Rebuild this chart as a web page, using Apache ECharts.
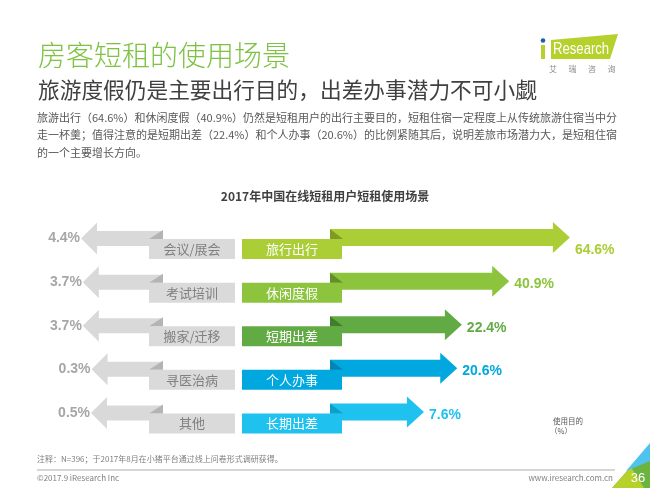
<!DOCTYPE html>
<html>
<head>
<meta charset="utf-8">
<script src="https://cdn.jsdelivr.net/npm/echarts@6/dist/echarts.min.js"></script>
<style>
html,body{margin:0;padding:0;background:#fff;}
#chart{width:650px;height:488px;}
</style>
</head>
<body>
<div id="chart"></div>
<script>
// ---- data ----
const rightCats = ['旅行出行', '休闲度假', '短期出差', '个人办事', '长期出差'];
const rightValues = [64.6, 40.9, 22.4, 20.6, 7.6];
const leftCats = ['会议/展会', '考试培训', '搬家/迁移', '寻医治病', '其他'];
const leftValues = [4.4, 3.7, 3.7, 0.3, 0.5];

// ---- styles ----
const rightColors = ['#abcd36', '#8cc43e', '#62ab44', '#00a8df', '#1fc2ee'];
const rightFolds = ['#7e9a23', '#628f28', '#3f7e2c', '#0584b2', '#0d9fc7'];
const grayArrow = '#d9d9d9';
const grayFold = '#b4b4b4';
const FONT = '"Noto Sans CJK SC", "Noto Sans", sans-serif';
const NUMFONT = '"Liberation Sans", Arial, sans-serif';

// layout constants (px)
const RBOX = { l: 242, r: 342, fold: 330 };
const LBOX = { l: 149, r: 235, fold: 163 };

const chart = echarts.init(document.getElementById('chart'), null, { renderer: 'canvas' });

function rightItem(params, api) {
  const i = api.value(1);
  const pt = api.coord([api.value(0), i]);
  const tipX = pt[0], cy = pt[1];
  const headL = 17, headH = 15.5, shaftH = 8.5;
  const c = rightColors[i], f = rightFolds[i];
  // the longest arrow's label sits lower, below the arrow head level
  const labelDy = i === 0 ? 13 : 3;
  return {
    type: 'group',
    children: [
      { type: 'rect', shape: { x: RBOX.fold, y: cy - shaftH, width: tipX - headL - RBOX.fold + 1, height: shaftH * 2 }, style: { fill: c } },
      { type: 'polygon', shape: { points: [[tipX, cy], [tipX - headL, cy - headH], [tipX - headL, cy + headH]] }, style: { fill: c } },
      { type: 'polygon', shape: { points: [[RBOX.fold, cy - shaftH], [RBOX.fold, cy + 1.5], [RBOX.r + 1, cy + 1.5]] }, style: { fill: f } },
      { type: 'rect', shape: { x: RBOX.l, y: cy + 1.5, width: RBOX.r - RBOX.l, height: 20 }, style: { fill: c } },
      { type: 'text', style: { text: rightCats[i], x: (RBOX.l + RBOX.r) / 2, y: cy + 11.5, align: 'center', verticalAlign: 'middle', fill: '#fff', font: '13px ' + FONT } },
      { type: 'text', style: { text: api.value(0) + '%', x: tipX + 5, y: cy + labelDy, align: 'left', verticalAlign: 'middle', fill: c, font: 'bold 14px ' + NUMFONT } }
    ]
  };
}

function leftItem(params, api) {
  const i = api.value(1);
  const pt = api.coord([api.value(0), i]);
  const tipX = pt[0], cy = pt[1] + 1;
  const headL = 16, headH = 16, shaftH = 7.5;
  return {
    type: 'group',
    children: [
      { type: 'rect', shape: { x: tipX + headL - 1, y: cy - shaftH, width: LBOX.fold - (tipX + headL - 1), height: shaftH * 2 }, style: { fill: grayArrow } },
      { type: 'polygon', shape: { points: [[tipX, cy], [tipX + headL, cy - headH], [tipX + headL, cy + headH]] }, style: { fill: grayArrow } },
      { type: 'polygon', shape: { points: [[LBOX.fold, cy - shaftH - 1], [LBOX.fold, cy + 0.5], [LBOX.l, cy + 0.5]] }, style: { fill: grayFold } },
      { type: 'rect', shape: { x: LBOX.l, y: cy + 0.5, width: LBOX.r - LBOX.l, height: 20 }, style: { fill: '#dadada' } },
      { type: 'text', style: { text: leftCats[i], x: (LBOX.l + LBOX.r) / 2, y: cy + 10.5, align: 'center', verticalAlign: 'middle', fill: '#808080', font: '13px ' + FONT } },
      { type: 'text', style: { text: api.value(0) + '%', x: tipX - 1, y: cy, align: 'right', verticalAlign: 'middle', fill: '#a6a6a6', font: 'bold 14px ' + NUMFONT } }
    ]
  };
}

const PX = 2.56; // px per percent
const gridTop = 215.7, gridBottom = 54.2;
const rZero = 404.5, rMax = 80;
const lZero = 92.3, lMax = 20;

const bodyLines = [
  '旅游出行（64.6%）和休闲度假（40.9%）仍然是短租用户的出行主要目的，短租住宿一定程度上从传统旅游住宿当中分',
  '走一杯羹；值得注意的是短期出差（22.4%）和个人办事（20.6%）的比例紧随其后，说明差旅市场潜力大，是短租住宿',
  '的一个主要增长方向。'
];
const brand = ['艾', '瑞', '咨', '询'];

const graphics = [
  { type: 'text', left: 38, top: 41, style: { text: '房客短租的使用场景', fill: '#7dc242', font: '300 28px ' + FONT } },
  { type: 'text', left: 38, top: 79, style: { text: '旅游度假仍是主要出行目的，出差办事潜力不可小觑', fill: '#404040', font: '21.7px ' + FONT } },
  ...bodyLines.map((t, k) => ({ type: 'text', left: 37, top: 112 + k * 17.5, style: { text: t, fill: '#595959', font: '11px ' + FONT } })),
  { type: 'text', left: 'center', top: 190, style: { text: '2017年中国在线短租用户短租使用场景', fill: '#404040', font: 'bold 12px ' + FONT } },
  // logo
  { type: 'polygon', shape: { points: [[551, 40], [618, 34], [610, 59], [551, 59]] }, style: { fill: '#b6d12b' } },
  { type: 'rect', shape: { x: 541, y: 45, width: 4, height: 14 }, style: { fill: '#b6d12b' } },
  { type: 'circle', shape: { cx: 543, cy: 40.5, r: 2.3 }, style: { fill: '#1f5fa8' } },
  { type: 'text', x: 553, y: 50, scaleX: 0.82, style: { text: 'Research', x: 0, y: 0, verticalAlign: 'middle', fill: '#fff', font: '16px "Liberation Sans", Arial, sans-serif' } },
  ...brand.map((t, k) => ({ type: 'text', style: { text: t, x: 549 + k * 19.5, y: 69, verticalAlign: 'middle', fill: '#8c8c8c', font: '8px ' + FONT } })),
  // unit note
  { type: 'text', style: { text: '使用目的', x: 553, y: 421, verticalAlign: 'middle', fill: '#595959', font: '7.5px ' + FONT } },
  { type: 'text', style: { text: '（%）', x: 550, y: 431, verticalAlign: 'middle', fill: '#595959', font: '7.5px ' + FONT } },
  // footer
  { type: 'text', style: { text: '注释：N=396；于2017年8月在小猪平台通过线上问卷形式调研获得。', x: 37, y: 459, verticalAlign: 'middle', fill: '#7f7f7f', font: '8px ' + FONT } },
  { type: 'line', shape: { x1: 37, y1: 470, x2: 615, y2: 470 }, style: { stroke: '#c8c8c8', lineWidth: 1.5 } },
  { type: 'text', style: { text: '©2017.9 iResearch Inc', x: 37, y: 478, verticalAlign: 'middle', fill: '#7f7f7f', font: '8px ' + FONT } },
  { type: 'text', style: { text: 'www.iresearch.com.cn', x: 613, y: 478, align: 'right', verticalAlign: 'middle', fill: '#7f7f7f', font: '8px ' + FONT } },
  // corner decoration
  { type: 'polygon', shape: { points: [[612, 488], [650, 445], [650, 488]] }, style: { fill: '#6db33f' } },
  { type: 'polygon', shape: { points: [[612, 488], [631, 467], [644, 488]] }, style: { fill: '#b6d12b' } },
  { type: 'polygon', shape: { points: [[626, 471], [650, 443], [650, 461]] }, style: { fill: '#4fc3ee' } },
  { type: 'text', style: { text: '36', x: 638, y: 478, align: 'center', verticalAlign: 'middle', fill: '#fff', font: '13px ' + NUMFONT } }
];

const option = {
  backgroundColor: '#fff',
  animation: false,
  grid: [
    { left: rZero, width: rMax * PX, top: gridTop, bottom: gridBottom },
    { left: lZero - lMax * PX, width: lMax * PX, top: gridTop, bottom: gridBottom }
  ],
  xAxis: [
    { type: 'value', gridIndex: 0, min: 0, max: rMax, show: false },
    { type: 'value', gridIndex: 1, min: 0, max: lMax, inverse: true, show: false }
  ],
  yAxis: [
    { type: 'category', gridIndex: 0, data: rightCats, inverse: true, show: false },
    { type: 'category', gridIndex: 1, data: leftCats, inverse: true, show: false }
  ],
  series: [
    { type: 'custom', xAxisIndex: 1, yAxisIndex: 1, renderItem: leftItem, data: leftValues.map((v, i) => [v, i]), encode: { x: 0, y: 1 } },
    { type: 'custom', xAxisIndex: 0, yAxisIndex: 0, renderItem: rightItem, data: rightValues.map((v, i) => [v, i]), encode: { x: 0, y: 1 } }
  ],
  graphic: graphics
};
chart.setOption(option);
</script>
</body>
</html>
